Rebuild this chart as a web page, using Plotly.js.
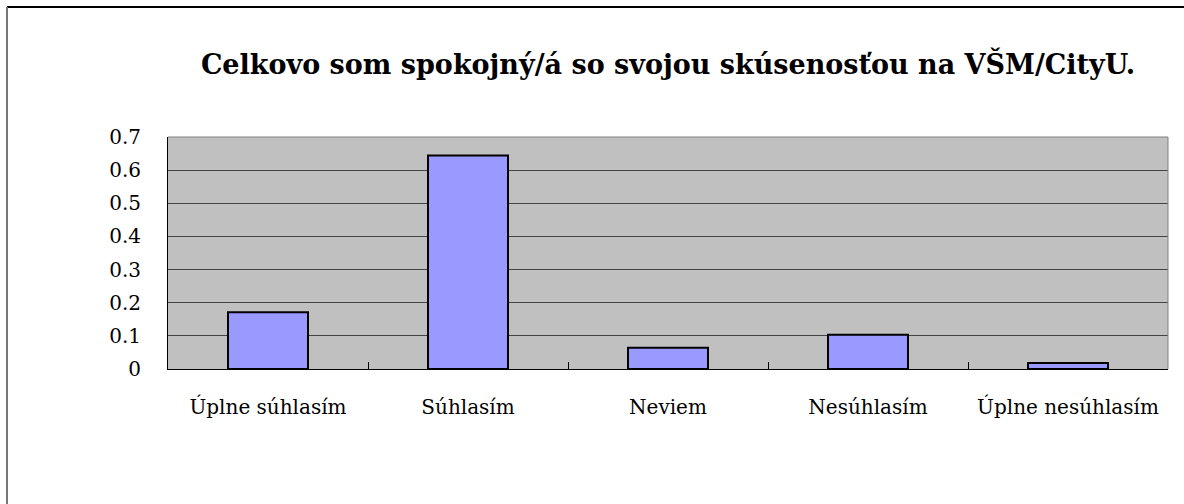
<!DOCTYPE html>
<html>
<head>
<meta charset="utf-8">
<script src="https://cdn.plot.ly/plotly-3.0.1.min.js"></script>
<style>html,body{margin:0;padding:0;background:#fff;}#chart{width:1184px;height:504px;}</style>
</head>
<body>
<div id="chart"></div>
<script>
const chartTitle = "Celkovo som spokojný/á so svojou skúsenosťou na VŠM/CityU.";
const categories = ["Úplne súhlasím", "Súhlasím", "Neviem", "Nesúhlasím", "Úplne nesúhlasím"];
const values = [0.171, 0.644, 0.064, 0.103, 0.018];
const yTicks = [0, 0.1, 0.2, 0.3, 0.4, 0.5, 0.6, 0.7];

const font = "DejaVu Serif";

const trace = {
  type: "bar",
  x: categories,
  y: values,
  marker: {color: "#9999FF", line: {color: "#000000", width: 2}},
  width: 0.4,
  hoverinfo: "x+y"
};

// plot area in pixels: x 168..1168, y 137..369
const L = 168, W = 1000, T = 137, H = 232, B = T + H;
const px = v => (v - L) / W;
const py = v => (B - v) / H;

const layout = {
  width: 1184, height: 504,
  margin: {l: L, r: 1184 - L - W, t: T, b: 504 - B, pad: 0},
  paper_bgcolor: "#ffffff",
  plot_bgcolor: "#C0C0C0",
  showlegend: false,
  title: {
    text: "<b>" + chartTitle + "</b>",
    font: {family: font, size: 27, color: "#000"},
    xref: "paper", x: 0.5, xanchor: "center",
    yref: "container", y: 1 - 65 / 504, yanchor: "middle"
  },
  xaxis: {
    type: "category",
    showgrid: false,
    showline: true, linecolor: "#000", linewidth: 1,
    ticks: "inside", tickson: "boundaries", ticklen: 7, tickcolor: "#000",
    tickfont: {family: font, size: 20, color: "#000"},
    ticklabelstandoff: 20,
    fixedrange: true
  },
  yaxis: {
    range: [0, 0.7],
    tickvals: yTicks,
    ticktext: yTicks.map(v => String(v)),
    showgrid: true, gridcolor: "#444444", gridwidth: 1,
    showline: true, linecolor: "#000", linewidth: 1,
    ticks: "",
    zeroline: false,
    tickfont: {family: font, size: 20, color: "#000"},
    ticklabelstandoff: 22,
    fixedrange: true
  },
  shapes: [
    {type: "line", xref: "paper", yref: "paper", x0: 0, x1: 1, y0: 1, y1: 1, line: {color: "#808080", width: 1}},
    {type: "line", xref: "paper", yref: "paper", x0: 1, x1: 1, y0: 0, y1: 1, line: {color: "#808080", width: 1}},
    {type: "line", xref: "paper", yref: "paper", x0: px(7), x1: px(1184), y0: py(7), y1: py(7), line: {color: "#000", width: 2}},
    {type: "line", xref: "paper", yref: "paper", x0: px(7), x1: px(7), y0: py(7), y1: py(504), line: {color: "#777", width: 2}}
  ]
};

Plotly.newPlot("chart", [trace], layout, {displayModeBar: false, staticPlot: true});
</script>
</body>
</html>
